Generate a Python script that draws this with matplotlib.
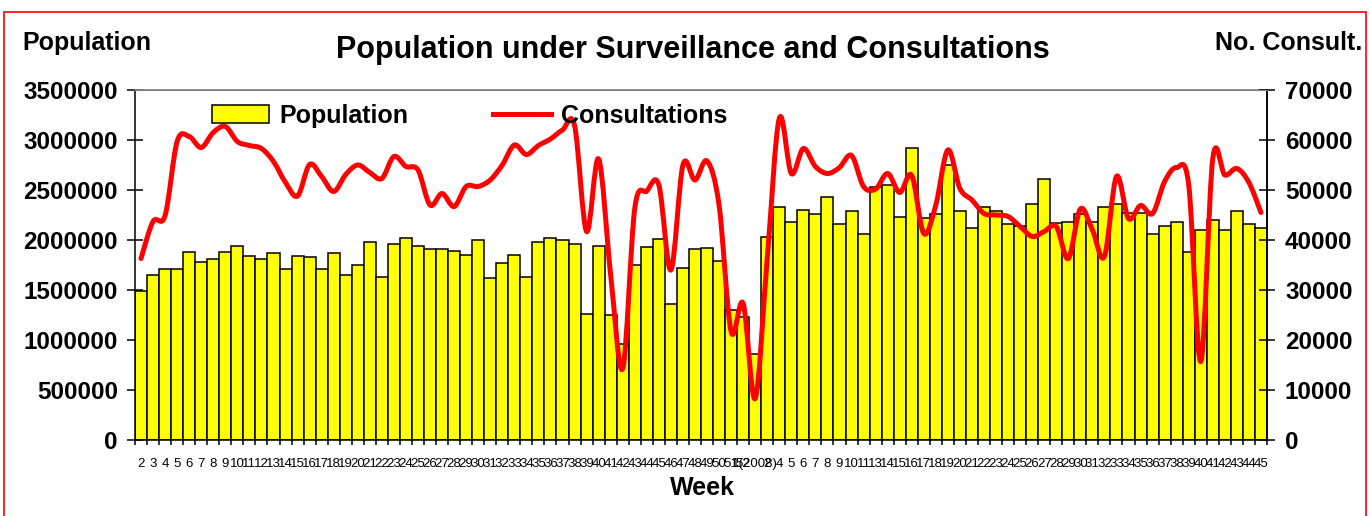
import numpy as np
import matplotlib
matplotlib.use("Agg")
import matplotlib.pyplot as plt
from matplotlib.path import Path
from matplotlib.patches import PathPatch, Patch, Rectangle
from matplotlib.lines import Line2D

plt.rcParams["font.family"] = ["Liberation Sans", "DejaVu Sans"]

# week labels: 2007 wk 2..52, then 2008 (weeks 3 and 12 missing)
weeks_2007 = [str(w) for w in range(2, 53)]
weeks_2008 = ["1(2008)", "2"] + [str(w) for w in range(4, 12)] + [str(w) for w in range(13, 46)]
week_labels = weeks_2007 + weeks_2008

population = [
    1490000, 1650000, 1710000, 1710000, 1880000, 1780000, 1810000, 1880000, 1940000, 1840000,
    1810000, 1870000, 1710000, 1840000, 1830000, 1710000, 1870000, 1650000, 1750000, 1980000,
    1630000, 1960000, 2020000, 1940000, 1910000, 1910000, 1890000, 1850000, 2000000, 1620000,
    1770000, 1850000, 1630000, 1980000, 2020000, 2000000, 1960000, 1260000, 1940000, 1250000,
    960000, 1750000, 1930000, 2010000, 1360000, 1720000, 1910000, 1920000, 1790000, 1300000,
    1230000,
    860000, 2030000, 2330000, 2180000, 2300000, 2260000, 2430000, 2160000, 2290000, 2060000,
    2530000, 2550000, 2230000, 2920000, 2220000, 2260000, 2750000, 2290000, 2120000, 2330000,
    2290000, 2160000, 2140000, 2360000, 2610000, 2170000, 2180000, 2260000, 2180000, 2330000,
    2360000, 2270000, 2270000, 2060000, 2140000, 2180000, 1880000, 2100000, 2200000, 2100000,
    2290000, 2160000, 2120000,
]

consultations = [
    36300, 43700, 44900, 59700, 60700, 58500, 61500, 62700, 59700, 58900,
    58300, 55700, 51500, 48800, 55100, 52700, 49700, 53100, 55000, 53500,
    52300, 56700, 54700, 54000, 47000, 49300, 46700, 50700, 50700, 52000,
    55000, 59000, 57100, 58900, 60200, 62000, 62900, 41700, 56200, 33000,
    14300, 46300, 49800, 51000, 34000, 55000, 52000, 55800, 47000, 21700,
    27300, 8300, 36300, 64300, 53300, 58300, 54700, 53300, 54500, 56900,
    50700, 50200, 53300, 49500, 52900, 41300, 47000, 58000, 50300, 48000,
    45300, 45000, 44700, 42700, 40700, 41700, 42700, 36300, 46200, 42000,
    36700, 52700, 44300, 46900, 45300, 51700, 54500, 51000, 15700, 56300,
    53000, 54300, 51500, 45500,
]

W, H = 1369, 516
fig = plt.figure(figsize=(W / 100, H / 100), dpi=100)
ax = fig.add_axes([135 / W, 76 / H, (1267 - 135) / W, 350 / H])

x = np.arange(len(population))
ax.bar(x, population, width=1.0, color="#FFFF00", edgecolor="black", linewidth=1.1, zorder=2)
ax.set_xlim(-0.5, len(population) - 0.5)
ax.set_ylim(0, 3500000)
ax.set_yticks(np.arange(0, 3500001, 500000))
ax.set_yticklabels([str(v) for v in range(0, 3500001, 500000)], fontweight="bold")
ax.tick_params(axis="y", direction="inout", length=11.5, width=1.1, labelsize=17.5, pad=6.5)

ax.set_xticks(x)
ax.set_xticklabels(week_labels, fontsize=9.5)
ax.set_xticks(np.arange(-0.5, len(population), 1.0), minor=True)
ax.tick_params(axis="x", which="major", length=0, pad=13)
ax.tick_params(axis="x", which="minor", direction="out", length=3.6, width=1.1)

for s in ["left", "bottom", "right"]:
    ax.spines[s].set_linewidth(1.1)
ax.spines["top"].set_color("#808080")
ax.spines["top"].set_linewidth(1.2)

# consultations on the right axis, smoothed line like the original
ax2 = ax.twinx()
ax2.set_ylim(0, 70000)
ax2.set_yticks(np.arange(0, 70001, 10000))
ax2.set_yticklabels([str(v) for v in range(0, 70001, 10000)], fontweight="bold")
ax2.tick_params(axis="y", direction="inout", length=11.5, width=1.1, labelsize=17.5, pad=7.2)
ax2.spines["right"].set_linewidth(1.1)
ax2.spines["left"].set_visible(False)
ax2.spines["bottom"].set_visible(False)
ax2.spines["top"].set_color("#808080")

pts = np.column_stack([x, consultations]).astype(float)
ext = np.vstack([pts[0], pts, pts[-1]])
verts = [pts[0]]
codes = [Path.MOVETO]
for i in range(len(pts) - 1):
    p0, p1, p2, p3 = ext[i], ext[i + 1], ext[i + 2], ext[i + 3]
    verts += [p1 + (p2 - p0) / 6, p2 - (p3 - p1) / 6, p2]
    codes += [Path.CURVE4] * 3
ax2.add_patch(PathPatch(Path(verts, codes), facecolor="none", edgecolor="#FF0000",
                        linewidth=3.6, capstyle="round", joinstyle="round", zorder=3))

handles = [Patch(facecolor="#FFFF00", edgecolor="black", linewidth=1.1),
           Line2D([], [], color="#FF0000", linewidth=3.6)]
ax2.legend(handles, ["Population", "Consultations"], ncol=2, frameon=False,
           loc="center left", bbox_to_anchor=(0.068, 0.926), borderpad=0, borderaxespad=0,
           handlelength=2.3, handletextpad=0.4, columnspacing=3.4,
           prop={"size": 18, "weight": "bold"})

fig.text(693 / W, 1 - 50 / H, "Population under Surveillance and Consultations",
         ha="center", va="center", fontsize=22, fontweight="bold")
fig.text(22 / W, 1 - 43 / H, "Population", ha="left", va="center", fontsize=18, fontweight="bold")
fig.text(1362 / W, 1 - 43 / H, "No. Consult.", ha="right", va="center", fontsize=18, fontweight="bold")
fig.text(702 / W, 1 - 488 / H, "Week", ha="center", va="center", fontsize=18, fontweight="bold")

fig.patches.append(Rectangle((4 / W, -0.1), (1366 - 4) / W, 1.1 - 12 / H, transform=fig.transFigure,
                             fill=False, edgecolor="red", linewidth=1.2))

fig.savefig("out.png", dpi=100)
